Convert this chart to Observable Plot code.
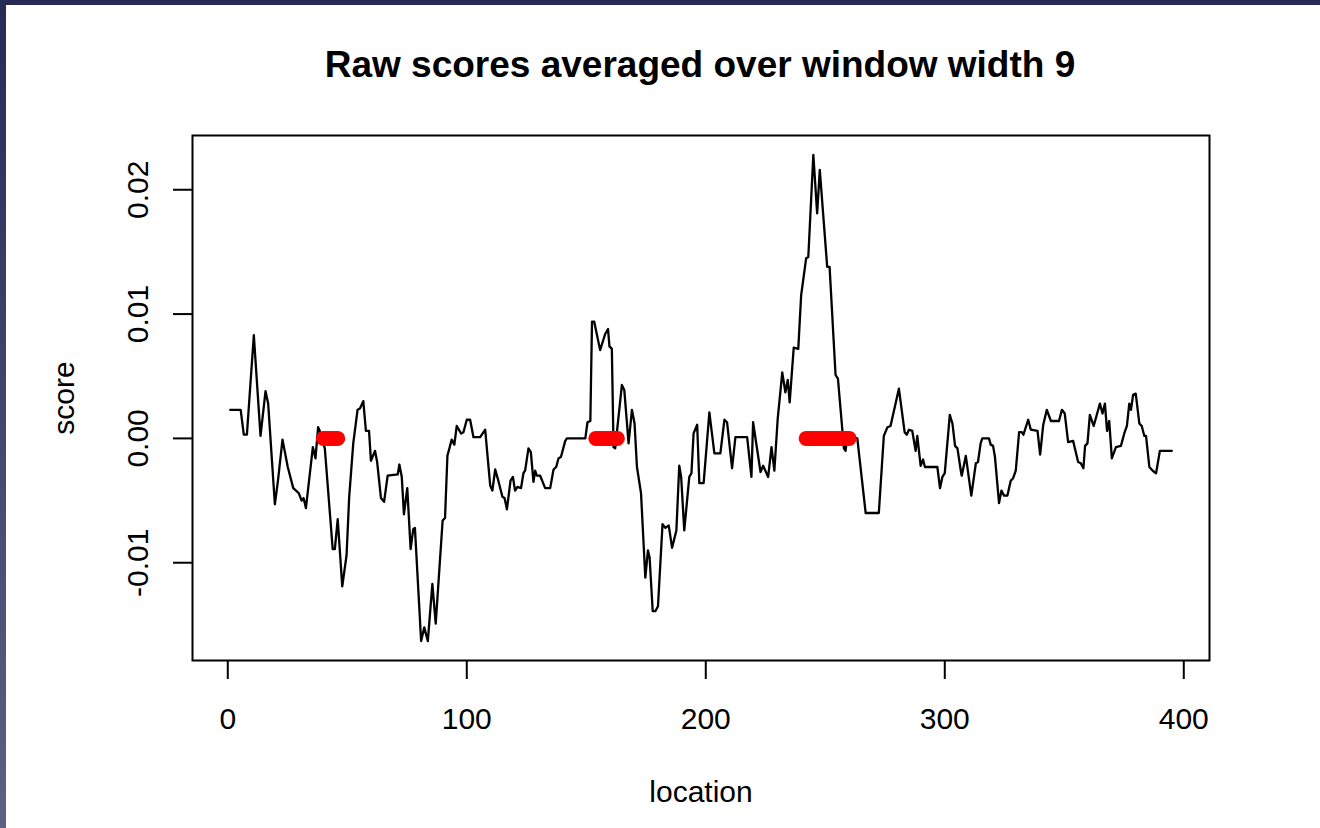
<!DOCTYPE html>
<html><head><meta charset="utf-8">
<script src="https://cdn.jsdelivr.net/npm/d3@7"></script>
<script src="https://cdn.jsdelivr.net/npm/@observablehq/plot@0.6"></script>
<style>
html,body{margin:0;padding:0;width:1320px;height:828px;overflow:hidden;}
body{background:linear-gradient(#252b54,#5d6183);position:relative;font-family:"Liberation Sans",Arial,Helvetica,sans-serif;}
#panel{position:absolute;left:6px;top:5px;width:1314px;height:823px;background:#fff;}
#title{position:absolute;left:0;top:41px;width:1388px;text-align:center;font-weight:bold;font-size:37px;line-height:37px;color:#000;}
#chart{position:absolute;left:0;top:95px;}
</style></head>
<body><div id="panel"><div id="title">Raw scores averaged over window width 9</div><div id="chart"></div></div>
<script>
// Line vertices: location and averaged score
const loc = [1,5.4,6.7,8,10.9,13.7,15.8,16.9,19.7,21,22.9,25.1,27.4,29.7,30.9,31.7,32.7,35.6,36.7,37.8,38.5,40.6,43.9,44.8,46,47.9,49.7,50.8,52.5,54.3,55.3,56.7,57.8,59.1,59.9,61.6,62.5,64.1,65.4,66.9,71.1,71.8,72.8,73.7,75.1,76.5,77.6,78.3,80.9,82.2,83.7,85.6,87,89.9,90.9,91.9,93.7,94.8,95.8,97.6,98.6,100,101.4,102.8,105.6,107.7,109.8,110.7,111.9,113.2,114.9,115.8,116.8,118.3,119.3,120.2,121.2,122.7,123.7,124.4,125.8,126.8,127.9,128.6,129.3,130.7,132.8,134.9,136.3,137.4,138.4,139.4,141.2,141.9,149.6,150.5,151.7,152.4,153.3,155.8,157.9,159.1,159.7,160.7,161.4,162.1,164.9,165.9,167.7,169.1,170.2,171.2,172.9,174.7,175.8,176.5,177.8,178.9,180,181.9,183.1,184.5,185.9,187.7,188.9,189.7,191,193.1,194,194.9,196.4,197.3,199.1,201.5,203.6,206.1,207.8,208.9,211,212.4,217.3,219.1,219.8,222.9,224,226.1,227.5,228.7,230.1,232,233.3,234.3,235.1,236.8,238.7,239.9,242,242.9,245,246.6,247.7,250.8,251.8,254.3,255.3,257.8,258.5,259.2,263.4,266.9,272.4,274.5,276,277.3,280.8,283.2,284.1,285,286.4,287.8,288.5,289.9,290.9,291.7,296.9,298,299,300,302.1,303.2,304.3,305.3,306.7,307.1,308.8,311.1,313,313.9,315,315.7,318.5,319.2,320.2,321,322.7,323.7,324.8,326.2,327.6,328.6,329.7,331.1,332.2,332.9,334.9,336,338.8,339.9,341.2,342.7,344.4,347.8,349,350.2,351.6,353.7,355.8,356.9,358,358.7,359.7,360.7,362.3,364.9,366,367,367.9,368.8,369.9,371.6,373.7,375.1,376.2,377.2,377.9,378.8,379.9,381.4,382.4,383.5,384.2,385.6,387,388.4,390,395];
const score = [0.0023,0.0023,0.0003,0.0003,0.0083,0.0002,0.0038,0.0028,-0.0053,-0.0034,-0.0001,-0.0023,-0.0040,-0.0044,-0.0050,-0.0048,-0.0056,-0.0007,-0.0016,0.0009,0.0006,-0.0008,-0.0089,-0.0089,-0.0065,-0.0119,-0.0094,-0.0047,-0.0004,0.0023,0.0024,0.0030,0.0006,0.0006,-0.0018,-0.0010,-0.0019,-0.0048,-0.0051,-0.0030,-0.0029,-0.0021,-0.0031,-0.0061,-0.0040,-0.0089,-0.0073,-0.0072,-0.0163,-0.0152,-0.0163,-0.0117,-0.0149,-0.0066,-0.0064,-0.0014,-0.0001,-0.0005,0.0010,0.0004,0.0005,0.0015,0.0015,0.0001,0.0001,0.0007,-0.0038,-0.0042,-0.0025,-0.0034,-0.0047,-0.0048,-0.0057,-0.0034,-0.0031,-0.0042,-0.0039,-0.0040,-0.0028,-0.0026,-0.0008,-0.0011,-0.0035,-0.0026,-0.0030,-0.0030,-0.0040,-0.0040,-0.0025,-0.0023,-0.0016,-0.0015,-0.0002,0,0,0.0013,0.0014,0.0094,0.0094,0.0071,0.0084,0.0088,0.0074,0.0072,-0.0007,-0.0008,0.0043,0.0039,-0.0004,0.0023,0.0012,-0.0023,-0.0044,-0.0112,-0.0090,-0.0096,-0.0139,-0.0139,-0.0135,-0.0069,-0.0072,-0.0070,-0.0088,-0.0074,-0.0022,-0.0031,-0.0074,-0.0031,-0.0028,0.0004,0.0011,-0.0036,-0.0036,0.0021,-0.0012,-0.0012,0.0015,0.0013,-0.0024,0.0001,0.0001,-0.0031,0.0013,-0.0027,-0.0022,-0.0031,-0.0007,-0.0026,0.0016,0.0053,0.0037,0.0047,0.0029,0.0073,0.0072,0.0115,0.0145,0.0146,0.0228,0.0181,0.0216,0.0138,0.0138,0.0051,0.0048,-0.0008,-0.0010,0.0002,0,-0.0060,-0.0060,0.0002,0.0009,0.0010,0.0040,0.0005,0.0003,0.0007,0.0006,-0.0010,0.0002,-0.0022,-0.0017,-0.0023,-0.0023,-0.0040,-0.0031,-0.0028,0.0019,0.0012,-0.0006,-0.0008,-0.0026,-0.0030,-0.0014,-0.0046,-0.0020,-0.0019,-0.0004,0,0,-0.0005,-0.0006,-0.0015,-0.0052,-0.0042,-0.0046,-0.0046,-0.0034,-0.0032,-0.0026,0.0005,0.0005,0.0003,0.0015,0.0007,0.0006,-0.0013,0.0011,0.0023,0.0014,0.0014,0.0023,0.0020,-0.0003,-0.0002,-0.0019,-0.0020,-0.0024,-0.0006,-0.0004,0.0019,0.0010,0.0028,0.0020,0.0028,0.0006,0.0014,-0.0016,-0.0007,-0.0006,0.0004,0.0010,0.0028,0.0023,0.0035,0.0036,0.0012,0.0010,0.0002,0.0002,-0.0023,-0.0026,-0.0028,-0.0010,-0.0010];
// Highlighted locations (red points drawn at score 0)
const markLoc = [40,41,42,43,44,45,46,154,155,156,157,158,159,160,161,162,163,242,243,244,245,246,247,248,249,250,251,252,253,254,255,256,257,258,259,260];
const markScore = [0,0,0,0,0,0,0,0,0,0,0,0,0,0,0,0,0,0,0,0,0,0,0,0,0,0,0,0,0,0,0,0,0,0,0,0];
const xTicks = [0,100,200,300,400];
const yTicks = [-0.01,0,0.01,0.02];
const yTickLabels = ["-0.01","0.00","0.01","0.02"];

const lineData = loc.map((x,i)=>({x, y: score[i]}));
const markData = markLoc.map((x,i)=>({x, y: markScore[i]}));

// R-style 4% axis expansion
const pad = (lo,hi)=>{const r=hi-lo; return [lo-0.04*r, hi+0.04*r];};
const xDom = pad(d3.min(loc), d3.max(loc));
const yDom = pad(d3.min(score), d3.max(score));

const chart = Plot.plot({
  width: 1314, height: 728,
  marginLeft: 186, marginRight: 111, marginTop: 35, marginBottom: 168,
  style: {fontFamily: "'Liberation Sans', Arial, Helvetica, sans-serif", fontSize: "30px", background: "white", color: "black", overflow: "visible"},
  x: {domain: xDom},
  y: {domain: yDom},
  marks: [
    Plot.frame({stroke: "black", strokeWidth: 2}),
    Plot.axisX({ticks: xTicks, tickSize: 19, tickPadding: 28, strokeWidth: 2, fontSize: 30, tickFormat: d => String(d),
      label: "location", labelAnchor: "center", labelArrow: "none", labelOffset: 141}),
    Plot.axisY({ticks: yTicks, tickSize: 19, tickPadding: 26, tickRotate: -90, strokeWidth: 2, fontSize: 30,
      tickFormat: d => yTickLabels[yTicks.indexOf(d)],
      label: "score", labelAnchor: "center", labelArrow: "none", labelOffset: 140}),
    Plot.line(lineData, {x: "x", y: "y", stroke: "black", strokeWidth: 2.3, strokeLinejoin: "round"}),
    Plot.dot(markData, {x: "x", y: "y", r: 7.5, fill: "#ff0000", stroke: "none"})
  ]
});
document.getElementById("chart").appendChild(chart);
</script>
</body></html>
